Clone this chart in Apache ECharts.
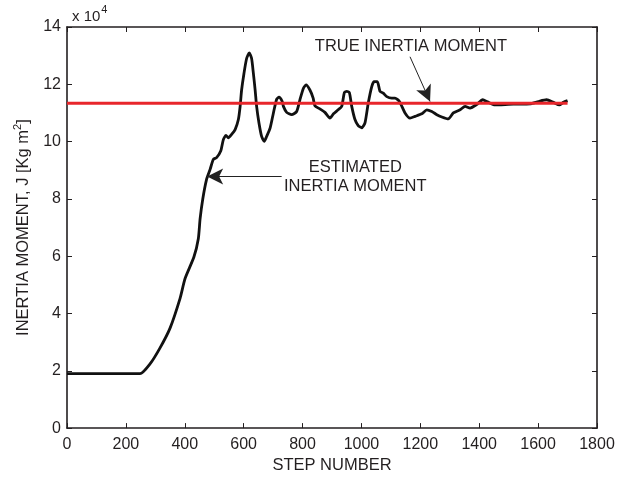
<!DOCTYPE html>
<html>
<head>
<meta charset="utf-8">
<script src="https://cdn.jsdelivr.net/npm/echarts@6/dist/echarts.min.js"></script>
<style>
  html, body { margin: 0; padding: 0; background: #fff; }
  #chart { width: 630px; height: 479px; }
</style>
</head>
<body>
<div id="chart"></div>
<script>
// Estimated inertia moment (units of 1e4 kg m^2) against step number
const steps = [0, 248, 282, 316, 350, 384, 401, 431, 446, 452, 461, 474, 486, 497, 508, 522, 531, 540, 548, 559, 571, 582,
  588, 593, 601, 610, 619, 627, 633, 639, 644, 652, 661, 670, 678, 690, 701, 712, 720, 731, 735, 746, 763, 780, 791,
  803, 812, 825, 836, 842, 859, 876, 893, 905, 921, 933, 942, 950, 959, 967, 978, 989, 1001, 1012, 1023, 1035, 1043,
  1054, 1063, 1074, 1086, 1103, 1114, 1129, 1148, 1165, 1182, 1205, 1222, 1239, 1256, 1273, 1295, 1312, 1335, 1352,
  1369, 1391, 1412, 1426, 1448, 1471, 1516, 1573, 1601, 1629, 1652, 1672, 1686, 1700];
const estimated = [1.9, 1.9, 2.24, 2.80, 3.49, 4.53, 5.22, 5.97, 6.61, 7.30, 7.99, 8.68, 9.03, 9.38, 9.44, 9.67, 10.07, 10.22, 10.13, 10.25, 10.42, 10.77,
  11.23, 11.8, 12.38, 12.90, 13.10, 12.90, 12.38, 11.8, 11.23, 10.65, 10.18, 10.01, 10.18, 10.48, 11.0, 11.48, 11.55, 11.40, 11.23, 11.02, 10.94, 11.05, 11.46,
  11.86, 11.98, 11.80, 11.52, 11.25, 11.14, 11.02, 10.82, 10.97, 11.11, 11.23, 11.71, 11.75, 11.71, 11.23, 10.77, 10.56, 10.48, 10.65, 11.34, 11.92, 12.09,
  12.09, 11.75, 11.69, 11.57, 11.52, 11.52, 11.40, 11.0, 10.82, 10.88, 10.97, 11.11, 11.05, 10.94, 10.86, 10.79, 11.0, 11.11, 11.23,
  11.17, 11.29, 11.46, 11.40, 11.29, 11.28, 11.31, 11.32, 11.40, 11.46, 11.37, 11.28, 11.37, 11.43];

// True inertia moment, constant over the run
const trueSteps = [0, 1700];
const trueValue = 11.34;

// Axis ticks
const xTicks = [0, 200, 400, 600, 800, 1000, 1200, 1400, 1600, 1800];
const yTicks = [0, 2, 4, 6, 8, 10, 12, 14];

// Annotation anchors (step, value)
const trueLabelAt = [1168, 13.31];
const trueArrowFrom = [1165, 12.96];
const trueArrowTo = [1233, 11.40];
const estLabelAt = [979, 8.77];
const estArrowFrom = [729, 8.78];
const estArrowTo = [476, 8.78];

const FONT = "'Liberation Sans', Arial, Helvetica, sans-serif";
const INK = '#231f20';

const chart = echarts.init(document.getElementById('chart'), null, { renderer: 'canvas' });

const estData = steps.map((s, i) => [s, estimated[i]]);
const trueData = trueSteps.map(s => [s, trueValue]);

const baseX = {
  type: 'value', min: xTicks[0], max: xTicks[xTicks.length - 1], interval: 200,
  splitLine: { show: false },
  axisLine: { show: true, onZero: false, lineStyle: { color: INK, width: 1.6 } },
  axisTick: { show: true, inside: true, length: 5, lineStyle: { color: INK, width: 1 } }
};
const baseY = {
  type: 'value', min: yTicks[0], max: yTicks[yTicks.length - 1], interval: 2,
  splitLine: { show: false },
  axisLine: { show: true, onZero: false, lineStyle: { color: INK, width: 1.6 } },
  axisTick: { show: true, inside: true, length: 5, lineStyle: { color: INK, width: 1 } }
};

chart.setOption({
  animation: false,
  backgroundColor: '#ffffff',
  textStyle: { fontFamily: FONT },
  title: {
    text: '{a|x 10}{s|4}',
    left: 67, top: -1,
    textStyle: {
      fontWeight: 'normal',
      rich: {
        a: { fontFamily: FONT, fontSize: 15, fontWeight: 'normal', color: INK, verticalAlign: 'bottom', lineHeight: 20 },
        s: { fontFamily: FONT, fontSize: 11, fontWeight: 'normal', color: INK, verticalAlign: 'top', lineHeight: 12, padding: [0, 0, 0, 1] }
      }
    }
  },
  grid: { left: 67, right: 33, top: 27, bottom: 48, containLabel: false },
  xAxis: [
    Object.assign({}, baseX, {
      position: 'bottom',
      name: 'STEP NUMBER', nameLocation: 'middle', nameGap: 27,
      nameTextStyle: { fontFamily: FONT, fontSize: 16.5, color: INK },
      axisLabel: { fontFamily: FONT, fontSize: 16, color: INK, margin: 8, formatter: v => String(v) }
    }),
    Object.assign({}, baseX, { position: 'top', axisLabel: { show: false } })
  ],
  yAxis: [
    Object.assign({}, baseY, {
      position: 'left',
      name: '{a|INERTIA MOMENT, J [Kg m}{s|2}{a|]}',
      nameLocation: 'middle', nameGap: 28, nameRotate: 90,
      nameTextStyle: {
        rich: {
          a: { fontFamily: FONT, fontSize: 16.5, color: INK, verticalAlign: 'bottom', lineHeight: 20 },
          s: { fontFamily: FONT, fontSize: 11, color: INK, verticalAlign: 'top', lineHeight: 12 }
        }
      },
      axisLabel: { fontFamily: FONT, fontSize: 16, color: INK, margin: 6, formatter: v => String(v) }
    }),
    Object.assign({}, baseY, { position: 'right', axisLabel: { show: false } })
  ],
  series: [
    {
      name: 'Estimated', type: 'line', data: estData,
      showSymbol: false, smooth: 0.2,
      lineStyle: { color: '#111111', width: 2.8 },
      z: 3,
      markLine: {
        silent: true,
        symbol: ['none', 'arrow'],
        symbolSize: [12, 16],
        label: { show: false },
        lineStyle: { color: '#222222', width: 1, type: 'solid' },
        data: [
          [{ coord: estArrowFrom }, { coord: estArrowTo }],
          [{ coord: trueArrowFrom }, { coord: trueArrowTo }]
        ]
      },
      markPoint: {
        silent: true,
        symbol: 'circle', symbolSize: 0,
        label: {
          show: true, position: 'inside', align: 'center', verticalAlign: 'middle',
          fontFamily: FONT, fontSize: 16.5, color: INK, lineHeight: 18.5
        },
        data: [
          { coord: trueLabelAt, value: 'TRUE INERTIA MOMENT', label: { formatter: 'TRUE INERTIA MOMENT' } },
          { coord: estLabelAt, value: 'ESTIMATED', label: { formatter: 'ESTIMATED\nINERTIA MOMENT' } }
        ]
      }
    },
    {
      name: 'True', type: 'line', data: trueData,
      showSymbol: false,
      lineStyle: { color: '#e8262b', width: 3 },
      z: 4
    }
  ]
});
</script>
</body>
</html>
